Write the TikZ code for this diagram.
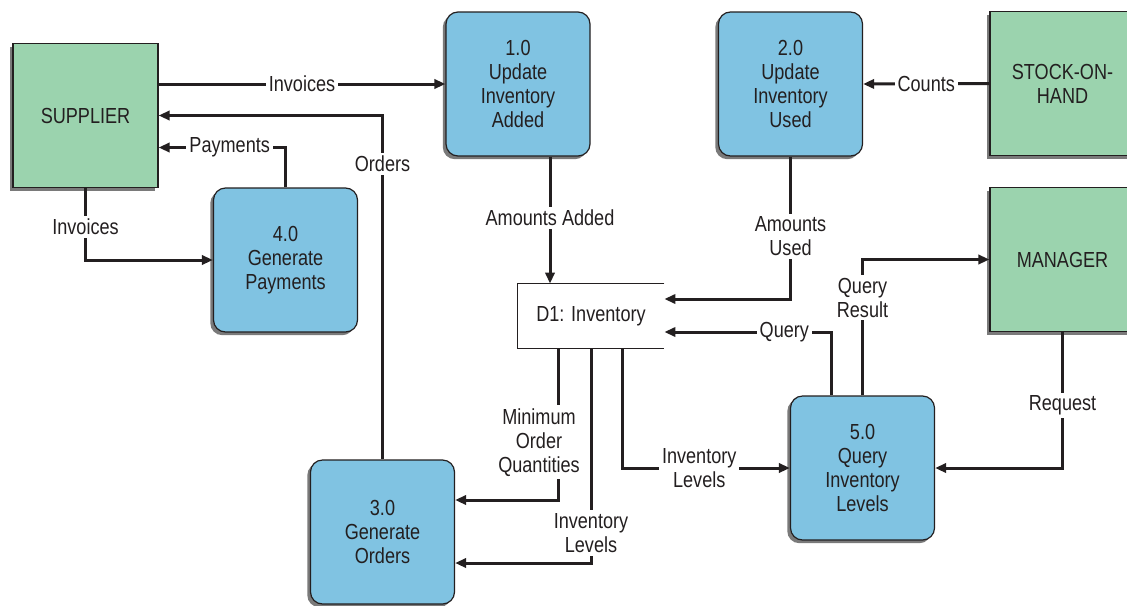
\documentclass[tikz,border=0pt]{standalone}
\usepackage{fontspec}
\setmainfont{Liberation Sans}[FakeStretch=0.83]
\usetikzlibrary{arrows.meta, positioning, calc, shadows}
\definecolor{entitygreen}{RGB}{155, 211, 174}
\definecolor{processblue}{RGB}{128, 195, 226}
\definecolor{inkblack}{RGB}{35, 31, 32}

\begin{document}
\begin{tikzpicture}[x=0.5pt, y=-0.5pt, font=\fontsize{10.9}{12}\selectfont,
  entity/.style={rectangle, draw=inkblack, line width=0.6pt, fill=entitygreen,
    minimum width=72.5pt, minimum height=72pt, align=center, text=inkblack,
    drop shadow={shadow xshift=-1.6pt, shadow yshift=-1.6pt, fill=black!80, opacity=0.65}},
  process/.style={rectangle, rounded corners=6pt, draw=inkblack, line width=0.6pt,
    fill=processblue, minimum width=72pt, minimum height=72pt, align=center, text=inkblack,
    drop shadow={shadow xshift=-1.6pt, shadow yshift=-1.6pt, fill=black!80, opacity=0.65}},
  store/.style={rectangle, minimum width=73pt, minimum height=32pt, text=inkblack},
  flow/.style={inkblack, line width=1.5pt, -{Triangle[length=5.5pt, width=4.6pt]}},
  lbl/.style={fill=white, inner sep=1.5pt, align=center, text=inkblack}]

  \useasboundingbox (0,0) rectangle (1127,605);
  \fill[white] (0,0) rectangle (1127,605);

  % ===== external entities =====
  \node[entity] (sup)   at (85.5,115.5)  {SUPPLIER};
  \node[entity] (stock) at (1062.5,83.5) {STOCK-ON-\\HAND};
  \node[entity] (mgr)   at (1062.5,259.5) {MANAGER};

  % ===== processes =====
  \node[process] (add)  at (518,84)    {1.0\\Update\\Inventory\\Added};
  \node[process] (used) at (790.5,84)  {2.0\\Update\\Inventory\\Used};
  \node[process] (ord)  at (382.5,532) {3.0\\Generate\\Orders};
  \node[process] (pay)  at (285.5,260) {4.0\\Generate\\Payments};
  \node[process] (qry)  at (862.5,468) {5.0\\Query\\Inventory\\Levels};

  % ===== data store (open on the right) =====
  \node[store] (inv) at (591,316) {D1: Inventory};
  \draw[inkblack, line width=0.6pt]
    (inv.north east) -- (inv.north west) -- (inv.south west) -- (inv.south east);

  % ===== data flows =====
  \draw[flow] (sup.east |- add.west) -- node[lbl] (l-inv1) {Invoices} (add.west);
  \draw[flow] (ord.north) |- node[lbl, pos=0.43] (l-ord) {Orders} (sup.east);
  \draw[flow] (pay.north) |- node[lbl, pos=0.72] (l-pay) {Payments} ($(sup.east)+(0,32)$);
  \draw[flow] (sup.south) |- node[lbl, pos=0.27] (l-inv2) {Invoices} (pay.west);

  \draw[flow] ($(add.south)+(32,0)$) -- node[lbl, pos=0.48] (l-add) {Amounts Added}
    ($(inv.north)+(-41,0)$);
  \draw[flow] (used.south) |- node[lbl, pos=0.28] (l-used) {Amounts\\Used}
    ($(inv.east)+(0,-17)$);
  \draw[flow] (stock.west) -- node[lbl] (l-cnt) {Counts} (used.east);

  \draw[flow] ($(qry.north)+(-31.5,0)$) |- node[lbl, pos=0.64] (l-qry) {Query}
    ($(inv.east)+(0,16)$);
  \draw[flow] (qry.north) |- node[lbl, pos=0.36] (l-res) {Query\\Result} (mgr.west);
  \draw[flow] (mgr.south) |- node[lbl, pos=0.27] (l-req) {Request} (qry.east);

  \draw[flow] ($(inv.south)+(-33,0)$) |- node[lbl, pos=0.31, xshift=-9.5pt] (l-moq)
    {Minimum\\Order\\Quantities} ($(ord.east)+(0,-32)$);
  \draw[flow] (inv.south) |- node[lbl, pos=0.43] (l-lev1) {Inventory\\Levels}
    ($(ord.east)+(0,31)$);
  \draw[flow] ($(inv.south)+(31,0)$) |- node[lbl, pos=0.73] (l-lev2) {Inventory\\Levels}
    (qry.west);

\end{tikzpicture}
\end{document}
